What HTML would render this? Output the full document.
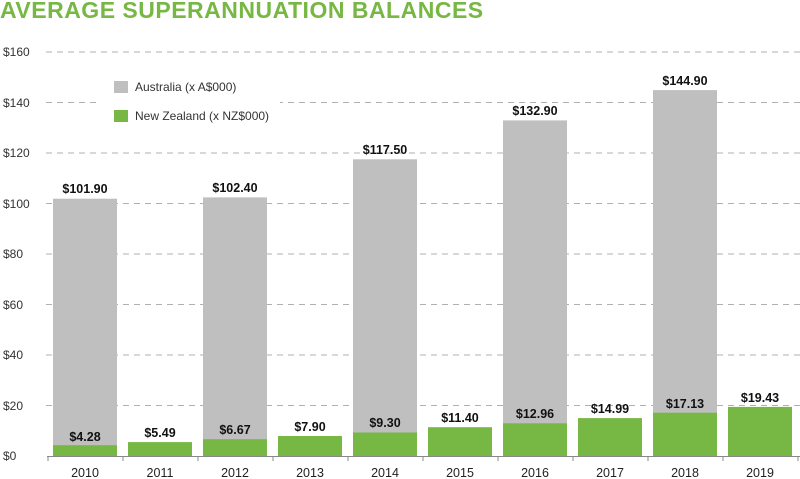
<!DOCTYPE html>
<html><head><style>body{margin:0;background:#fff}svg{display:block}</style></head><body>
<svg width="800" height="479" xmlns="http://www.w3.org/2000/svg" font-family="Liberation Sans, sans-serif">
<text x="0" y="18" font-size="23" font-weight="bold" fill="#76b843" letter-spacing="0.5">AVERAGE SUPERANNUATION BALANCES</text>
<g stroke="#b0b0b0" stroke-width="1" stroke-dasharray="6,5">
<line x1="46" y1="52" x2="800" y2="52"/><line x1="46" y1="102.5" x2="800" y2="102.5"/><line x1="46" y1="153" x2="800" y2="153"/><line x1="46" y1="203.5" x2="800" y2="203.5"/><line x1="46" y1="254" x2="800" y2="254"/><line x1="46" y1="304.5" x2="800" y2="304.5"/><line x1="46" y1="355" x2="800" y2="355"/><line x1="46" y1="405.5" x2="800" y2="405.5"/>
</g>
<g font-size="12" fill="#333">
<text x="3" y="56">$160</text><text x="3" y="107">$140</text><text x="3" y="157">$120</text><text x="3" y="208">$100</text><text x="3" y="258">$80</text><text x="3" y="309">$60</text><text x="3" y="359">$40</text><text x="3" y="410">$20</text><text x="3" y="460">$0</text>
</g>
<rect x="100" y="70" width="180" height="62" fill="#fff"/>
<rect x="114" y="81" width="14" height="12" fill="#bfbfc0"/><text x="135" y="91" font-size="12" fill="#333">Australia (x A$000)</text>
<rect x="114" y="110" width="14" height="12" fill="#76b843"/><text x="135" y="120" font-size="12" fill="#333">New Zealand (x NZ$000)</text>
<g fill="#bfbfc0">
<rect x="53" y="198.7" width="64" height="257.3"/><rect x="203" y="197.4" width="64" height="258.6"/><rect x="353" y="159.3" width="64" height="296.7"/><rect x="503" y="120.4" width="64" height="335.6"/><rect x="653" y="90.1" width="64" height="365.9"/>
</g>
<g fill="#76b843">
<rect x="53" y="445.2" width="64" height="10.8"/><rect x="128" y="442.1" width="64" height="13.9"/><rect x="203" y="439.2" width="64" height="16.8"/><rect x="278" y="436" width="64" height="20"/><rect x="353" y="432.5" width="64" height="23.5"/><rect x="428" y="427.2" width="64" height="28.8"/><rect x="503" y="423.3" width="64" height="32.7"/><rect x="578" y="418.1" width="64" height="37.9"/><rect x="653" y="412.7" width="64" height="43.3"/><rect x="728" y="406.9" width="64" height="49.1"/>
</g>
<g font-size="12.5" font-weight="bold" fill="#111" text-anchor="middle">
<text x="85" y="193">$101.90</text><text x="235" y="192">$102.40</text><text x="385" y="154">$117.50</text><text x="535" y="115">$132.90</text><text x="685" y="85">$144.90</text>
<text x="85" y="441">$4.28</text><text x="160" y="437">$5.49</text><text x="235" y="434">$6.67</text><text x="310" y="431">$7.90</text><text x="385" y="427">$9.30</text><text x="460" y="422">$11.40</text><text x="535" y="418">$12.96</text><text x="610" y="413">$14.99</text><text x="685" y="408">$17.13</text><text x="760" y="402">$19.43</text>
</g>
<g stroke="#888" stroke-width="1">
<line x1="47" y1="456.5" x2="800" y2="456.5"/>
<line x1="48" y1="456" x2="48" y2="461"/><line x1="123" y1="456" x2="123" y2="461"/><line x1="198" y1="456" x2="198" y2="461"/><line x1="273" y1="456" x2="273" y2="461"/><line x1="348" y1="456" x2="348" y2="461"/><line x1="423" y1="456" x2="423" y2="461"/><line x1="498" y1="456" x2="498" y2="461"/><line x1="573" y1="456" x2="573" y2="461"/><line x1="648" y1="456" x2="648" y2="461"/><line x1="723" y1="456" x2="723" y2="461"/><line x1="798" y1="456" x2="798" y2="461"/>
</g>
<g font-size="12.5" fill="#222" text-anchor="middle">
<text x="85" y="477">2010</text><text x="160" y="477">2011</text><text x="235" y="477">2012</text><text x="310" y="477">2013</text><text x="385" y="477">2014</text><text x="460" y="477">2015</text><text x="535" y="477">2016</text><text x="610" y="477">2017</text><text x="685" y="477">2018</text><text x="760" y="477">2019</text>
</g>
</svg>
</body></html>
